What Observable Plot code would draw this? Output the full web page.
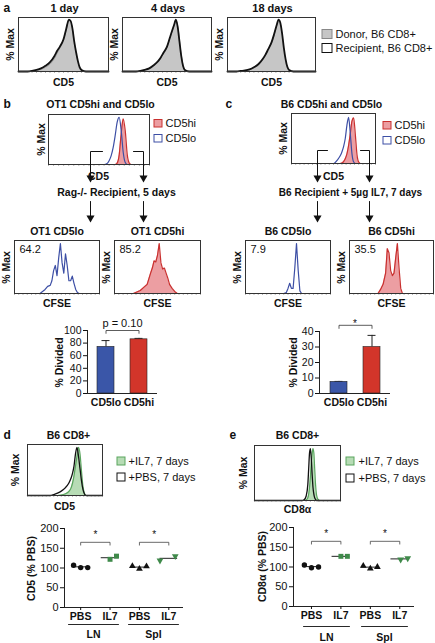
<!DOCTYPE html>
<html><head><meta charset="utf-8">
<script src="https://cdn.jsdelivr.net/npm/d3@7"></script>
<script src="https://cdn.jsdelivr.net/npm/@observablehq/plot@0.6"></script>
<style>
html,body{margin:0;padding:0;background:#fff;}
#fig{position:relative;width:435px;height:643px;overflow:hidden;background:#fff;font-family:"Liberation Sans",Arial,Helvetica,sans-serif;}
</style></head><body><div id="fig"></div>
<script>
// ---------------- DATA ----------------
// Panel a: CD5 histograms (x in % of axis, y in % Max)
const aTitles = ["1 day", "4 days", "18 days"];
const aLegend = ["Donor, B6 CD8+", "Recipient, B6 CD8+"];
const aCD5 = [0,10,15,20,25,30,35,40,43,46,50,53,56,58,60,62,64,66,68,70,75,100];
const aDonor1 = [0,0,1,2,4,8,14,25,35,45,60,80,98,96,80,55,35,18,6,2,0,0];
const aRecip1 = [0,0,1,3,6,11,18,30,40,48,62,82,100,97,82,57,37,20,8,3,0,0];
const aDonor4 = [0,0,0,1,3,6,11,19,26,34,46,62,78,88,98,88,60,32,12,4,0,0];
const aRecip4 = [0,0,0,1,3,6,12,20,27,36,48,64,80,90,100,86,58,30,11,3,0,0];
const aDonor18 = [0,0,0,1,3,7,12,22,30,40,54,70,88,98,92,70,42,20,7,2,0,0];
const aRecip18 = [0,0,1,2,4,8,14,24,32,42,56,72,90,100,94,74,46,24,9,3,0,0];

// Panels b, c: sorted CD5hi / CD5lo
const sortLegend = ["CD5hi", "CD5lo"];
const bTitle = "OT1 CD5hi and CD5lo";
const cTitle = "B6 CD5hi and CD5lo";
const bStep = "Rag-/- Recipient, 5 days";
const cStep = "B6 Recipient + 5µg IL7, 7 days";
const sortCD5 = [0,50,55,58,60,62,64,66,68,70,72,74,76,78,80,82,85,100];
const bTopLo = [0,0,0,2,8,18,35,60,88,98,70,25,4,0,0,0,0,0];
const bTopHi = [0,0,0,0,0,0,0,0,3,20,65,95,70,20,3,0,0,0];
const cTopLo = [0,0,8,16,24,35,52,80,96,62,20,3,0,0,0,0,0,0];
const cTopHi = [0,0,0,0,1,4,10,20,38,62,88,95,60,18,3,0,0,0];

// CFSE dilution histograms
const cfseTitles = ["OT1 CD5lo", "OT1 CD5hi", "B6 CD5lo", "B6 CD5hi"];
const cfseDivided = ["64.2", "85.2", "7.9", "35.5"];
const bLoCfseX = [0,30,33,36,39,42,44,46,48,50,52,54,56,58,60,62,64,66,68,70,72,74,76,100];
const bLoCfseY = [0,0,4,8,14,16,25,45,55,35,70,98,60,40,78,55,25,25,34,20,8,2,0,0];
const bHiCfseX = [0,22,26,30,34,38,42,44,46,48,50,52,54,56,58,60,62,64,67,70,73,100];
const bHiCfseY = [0,0,3,6,12,18,40,50,64,62,75,98,60,48,50,40,30,18,10,4,0,0];
const cLoCfseX = [0,45,48,50,52,54,56,58,60,62,64,66,100];
const cLoCfseY = [0,0,2,10,20,10,10,50,98,45,5,0,0];
const cHiCfseX = [0,34,37,40,43,45,47,49,51,53,55,57,59,61,63,100];
const cHiCfseY = [0,0,8,18,40,88,80,45,35,40,70,98,50,10,0,0];

// % Divided bars
const barGroups = ["CD5lo", "CD5hi"];
const bDivided = [74, 86];
const bDividedErr = [10, 1.5];
const bNote = "p = 0.10";
const cDivided = [7.5, 30];
const cDividedErr = [0.3, 7.5];
const cNote = "*";

// Panels d, e
const deTitle = "B6 CD8+";
const deLegend = ["+IL7, 7 days", "+PBS, 7 days"];
const dHistX = [0,30,35,40,45,50,55,58,60,62,64,66,68,70,72,74,76,78,100];
const dHistPbs = [0,0,2,5,9,15,25,35,45,60,85,98,80,55,30,12,3,0,0];
const dHistIl7 = [0,0,0,0,1,3,8,15,25,40,60,80,98,85,50,18,4,0,0];
const eHistX = [0,55,58,60,62,63,64,65,66,67,68,69,70,71,72,73,74,76,100];
const eHistPbs = [0,0,2,8,30,60,90,98,80,50,25,12,5,2,0,0,0,0,0];
const eHistIl7 = [0,0,0,1,5,12,25,45,70,88,98,90,60,30,12,5,2,0,0];

const dotGroups = ["PBS", "IL7", "PBS", "IL7"];
const tissues = ["LN", "Spl"];
const dLnPbs = [107, 101, 101];
const dLnIl7 = [122, 130];
const dSplPbs = [105, 98, 104];
const dSplIl7 = [119, 130];
const eLnPbs = [105, 98, 100];
const eLnIl7 = [127, 127];
const eSplPbs = [103, 96, 100];
const eSplIl7 = [119, 122];
const pbsJitter = [-0.24, 0, 0.24];
const dLnIl7Jitter = [0, 0.22];
const dSplIl7Jitter = [-0.3, 0.22];
const eLnIl7Jitter = [0, 0.22];
const eSplIl7Jitter = [0.03, 0.27];
const dYLabel = "CD5 (% PBS)";
const eYLabel = "CD8α (% PBS)";

// ---------------- STYLE / HELPERS ----------------
const FONT = '"Liberation Sans", Arial, Helvetica, sans-serif';
const INK = "#111";
const GRAYF = "#c6c6c6";
const BLUE = "#3d4fa5";
const RED = "#c9302f";
const PINK = "#ec9ea2";
const GREENF = "#b7dcb5";
const GREEN = "#5aa55e";
const DOTGREEN = "#3f8a4a";
const BARBLUE = "#3a56a8";
const BARRED = "#d2352a";
const fig = document.getElementById("fig");

function mount(svg, left, top) {
  svg.style.position = "absolute";
  svg.style.left = left + "px";
  svg.style.top = top + "px";
  svg.style.overflow = "visible";
  svg.style.maxWidth = "none";
  fig.appendChild(svg);
}
const pts = (xs, ys) => xs.map((x, i) => ({x, y: ys[i]}));

function hist(left, top, w, h, curves) {
  const m = 1, mb = 4;
  const marks = [];
  for (const c of curves) if (c.fill) marks.push(Plot.areaY(pts(c.x, c.y), {x: "x", y: "y", fill: c.fill, curve: c.curve}));
  for (const c of curves) if (c.stroke) marks.push(Plot.lineY(pts(c.x, c.y), {x: "x", y: "y", stroke: c.stroke, strokeWidth: c.sw, curve: c.curve}));
  marks.push(Plot.axisX({ticks: 30, tickSize: 2, tickFormat: () => "", stroke: "#888", strokeWidth: 0.6, label: null}));
  marks.push(Plot.frame({stroke: "#333", strokeWidth: 1}));
  const svg = Plot.plot({
    width: w + 2 * m, height: h + m + mb,
    marginLeft: m, marginRight: m, marginTop: m, marginBottom: mb,
    x: {domain: [0, 100]}, y: {domain: [0, 104], axis: null},
    style: {background: "transparent", fontFamily: FONT},
    marks
  });
  mount(svg, left - m, top - m);
}

function bars(o) {
  const ml = o.ml, mt = o.mt, mb = 18, mr = 4;
  const data = barGroups.map((g, i) => ({g, v: o.values[i], e: o.errs[i]}));
  const br = [
    {g: barGroups[0], v: o.bracket[0]}, {g: barGroups[0], v: o.bracket[1]},
    {g: barGroups[1], v: o.bracket[1]}, {g: barGroups[1], v: o.bracket[0]}
  ];
  const svg = Plot.plot({
    width: ml + o.w + mr, height: mt + o.h + mb,
    marginLeft: ml, marginRight: mr, marginTop: mt, marginBottom: mb,
    x: {type: "band", domain: barGroups, paddingInner: 0.485, paddingOuter: 0.3},
    y: {domain: [0, o.yMax]},
    color: {domain: barGroups, range: [BARBLUE, BARRED]},
    style: {background: "transparent", fontFamily: FONT, color: INK},
    marks: [
      Plot.ruleX(data, {x: "g", y1: "v", y2: d => d.v + d.e, stroke: "#222", strokeWidth: 1}),
      Plot.tickY(data, {x: "g", y: d => d.v + d.e, insetLeft: 4.5, insetRight: 4.5, stroke: "#222", strokeWidth: 1}),
      Plot.barY(data, {x: "g", y: "v", fill: "g", stroke: "#222", strokeWidth: 0.6}),
      Plot.ruleY([0], {stroke: "#222"}),
      Plot.frame({anchor: "left", stroke: "#222"}),
      Plot.axisY({ticks: o.yTicks, tickSize: 4, tickPadding: 2, fontSize: 10.5, label: null}),
      Plot.axisX({tickSize: 0, tickPadding: 5, fontSize: 10.5, fontWeight: "bold", label: null}),
      Plot.line(br, {x: "g", y: "v", stroke: "#333", strokeWidth: 0.8}),
      Plot.text([o.note], {frameAnchor: "top", dy: o.noteDy, fontSize: o.noteSize, fill: INK})
    ]
  });
  mount(svg, o.left - ml, o.top - mt);
}

function dots(o) {
  const ml = 28, mr = 4, mt = 8, mb = 18;
  const groups = [o.lnPbs, o.lnIl7, o.splPbs, o.splIl7];
  const jit = [pbsJitter, o.lnJit, pbsJitter, o.splJit];
  const syms = ["circle", "square", "triangle", "triangle"];
  const rot = [0, 0, 0, 180];
  const cols = [INK, DOTGREEN, INK, DOTGREEN];
  const rs = [2.7, 2.8, 2.5, 2.5];
  const means = groups.map((vals, g) => ({g, m: d3.mean(vals)}));
  const marks = [
    Plot.ruleY([0], {stroke: "#222"}),
    Plot.frame({anchor: "left", stroke: "#222"}),
    Plot.axisY({ticks: [0, 50, 100, 150, 200], tickSize: 4, tickPadding: 2, fontSize: 11, label: null}),
    Plot.axisX({ticks: [0, 1, 2, 3], tickFormat: i => dotGroups[i], tickSize: 3, tickPadding: 2, fontSize: 10.5, fontWeight: "bold", label: null}),
    Plot.ruleY(means, {y: "m", x1: d => d.g - 0.3, x2: d => d.g + 0.3, stroke: "#222", strokeWidth: 1})
  ];
  groups.forEach((vals, g) => {
    marks.push(Plot.dot(vals.map((v, i) => ({x: g + jit[g][i], v})), {x: "x", y: "v", symbol: syms[g], rotate: rot[g], r: rs[g], fill: cols[g], stroke: "none"}));
  });
  [[0, 1], [2, 3]].forEach(([a, b]) => {
    marks.push(Plot.line([{x: a, y: 158}, {x: a, y: 165}, {x: b, y: 165}, {x: b, y: 158}], {x: "x", y: "y", stroke: "#444", strokeWidth: 0.8}));
    marks.push(Plot.text([{x: (a + b) / 2, y: 184, t: "*"}], {x: "x", y: "y", text: "t", fontSize: 10, fill: INK}));
  });
  const svg = Plot.plot({
    width: ml + o.w + mr, height: mt + o.h + mb,
    marginLeft: ml, marginRight: mr, marginTop: mt, marginBottom: mb,
    x: {domain: o.xDomain}, y: {domain: [0, 200]},
    style: {background: "transparent", fontFamily: FONT, color: INK},
    marks
  });
  mount(svg, o.left - ml, o.top - mt);
}

// ---------------- CHARTS ----------------
const aCurves = [[aDonor1, aRecip1], [aDonor4, aRecip4], [aDonor18, aRecip18]];
const aBoxes = [[18, 90], [122, 89], [227, 88]];
aCurves.forEach(([don, rec], i) => {
  hist(aBoxes[i][0], 17, aBoxes[i][1], 54, [
    {x: aCD5, y: don, fill: GRAYF, stroke: "#999", sw: 0.8, curve: "monotone-x"},
    {x: aCD5, y: rec, stroke: INK, sw: 1.8, curve: "monotone-x"}
  ]);
});
hist(48, 114, 101, 50, [
  {x: sortCD5, y: bTopHi, fill: PINK, stroke: RED, sw: 1.2, curve: "monotone-x"},
  {x: sortCD5, y: bTopLo, stroke: BLUE, sw: 1.2, curve: "monotone-x"}
]);
hist(291, 113, 84, 50, [
  {x: sortCD5, y: cTopHi, fill: PINK, stroke: RED, sw: 1.2, curve: "monotone-x"},
  {x: sortCD5, y: cTopLo, stroke: BLUE, sw: 1.2, curve: "monotone-x"}
]);
hist(14, 240, 85, 53, [{x: bLoCfseX, y: bLoCfseY, stroke: BLUE, sw: 1.2, curve: "linear"}]);
hist(114, 240, 86, 53, [{x: bHiCfseX, y: bHiCfseY, fill: PINK, stroke: RED, sw: 1.2, curve: "linear"}]);
hist(245, 240, 85, 53, [{x: cLoCfseX, y: cLoCfseY, stroke: BLUE, sw: 1.2, curve: "linear"}]);
hist(349, 240, 84, 53, [{x: cHiCfseX, y: cHiCfseY, fill: PINK, stroke: RED, sw: 1.2, curve: "linear"}]);
hist(27, 444, 75, 51, [
  {x: dHistX, y: dHistIl7, fill: GREENF, stroke: GREEN, sw: 1.2, curve: "monotone-x"},
  {x: dHistX, y: dHistPbs, stroke: INK, sw: 1.3, curve: "monotone-x"}
]);
hist(254, 445, 86, 55, [
  {x: eHistX, y: eHistIl7, fill: GREENF, stroke: GREEN, sw: 1.2, curve: "monotone-x"},
  {x: eHistX, y: eHistPbs, stroke: INK, sw: 1.3, curve: "monotone-x"}
]);

bars({left: 87, top: 330, w: 70, h: 63, ml: 26, mt: 26, yMax: 100, yTicks: [0, 20, 40, 60, 80, 100],
  values: bDivided, errs: bDividedErr, bracket: [95.5, 100], note: bNote, noteDy: -11, noteSize: 11});
bars({left: 319, top: 331, w: 71, h: 62, ml: 24, mt: 22, yMax: 40, yTicks: [0, 10, 20, 30, 40],
  values: cDivided, errs: cDividedErr, bracket: [42, 44], note: cNote, noteDy: -12, noteSize: 10});

dots({left: 64, top: 528, w: 119, h: 79, xDomain: [-0.55, 3.5],
  lnPbs: dLnPbs, lnIl7: dLnIl7, splPbs: dSplPbs, splIl7: dSplIl7, lnJit: dLnIl7Jitter, splJit: dSplIl7Jitter});
dots({left: 293, top: 527, w: 121, h: 79, xDomain: [-0.61, 3.5],
  lnPbs: eLnPbs, lnIl7: eLnIl7, splPbs: eSplPbs, splIl7: eSplIl7, lnJit: eLnIl7Jitter, splJit: eSplIl7Jitter});

// ---------------- ANNOTATION LAYER ----------------
const ov = [];
function T(text, x, y, o = {}) {
  ov.push(Plot.text([{x, y, text}], {x: "x", y: "y", text: "text", fontSize: 10.5, fill: INK, ...o}));
}
const B = {fontWeight: "bold"};
const R90 = {fontWeight: "bold", rotate: -90};
function sw(x, y, w, h, fill, stroke) {
  ov.push(Plot.rect([{x1: x, x2: x + w, y1: y, y2: y + h}], {x1: "x1", x2: "x2", y1: "y1", y2: "y2", fill, stroke, strokeWidth: 1}));
}
function head(x, yTip) {
  ov.push(Plot.dot([{x, y: yTip - 4.7}], {x: "x", y: "y", symbol: "triangle", rotate: 180, r: 3, fill: INK, stroke: "none"}));
}
function gate(xv, xh, yh, yTip) {
  ov.push(Plot.line([{x: xh, y: yh}, {x: xv, y: yh}, {x: xv, y: yTip - 5}], {x: "x", y: "y", stroke: INK, strokeWidth: 1}));
  head(xv, yTip);
}
function arrow(x, y0, yTip) {
  ov.push(Plot.line([{x, y: y0}, {x, y: yTip - 5}], {x: "x", y: "y", stroke: INK, strokeWidth: 1}));
  head(x, yTip);
}

// panel a
T("a", 3, 8, {fontWeight: "bold", fontSize: 12, textAnchor: "start"});
aBoxes.forEach(([x, w], i) => {
  T(aTitles[i], x + w / 2 + 1, 8, {fontWeight: "bold", fontSize: 11});
  T("% Max", x - 8, 44, R90);
  T("CD5", x + w / 2, 82, B);
});
sw(322, 29.5, 10, 9, GRAYF, "#888");
sw(322, 43.5, 10, 9, "white", INK);
T(aLegend[0], 335, 34, {fontSize: 11, textAnchor: "start"});
T(aLegend[1], 335, 48, {fontSize: 11, textAnchor: "start"});

// panels b, c
T("b", 3, 104, {fontWeight: "bold", fontSize: 12, textAnchor: "start"});
T(bTitle, 100, 104, B);
T("c", 225, 104, {fontWeight: "bold", fontSize: 12, textAnchor: "start"});
T(cTitle, 331, 104, B);
T("% Max", 41, 139, R90);
T("% Max", 283, 138, R90);
sw(154, 119.5, 8, 7.5, PINK, RED);
sw(154, 134.5, 8, 7.5, "white", BLUE);
T(sortLegend[0], 165, 123, {fontSize: 11, textAnchor: "start"});
T(sortLegend[1], 165, 138, {fontSize: 11, textAnchor: "start"});
sw(383, 121.5, 8, 7.5, PINK, RED);
sw(383, 136.5, 8, 7.5, "white", BLUE);
T(sortLegend[0], 394, 125, {fontSize: 11, textAnchor: "start"});
T(sortLegend[1], 394, 140, {fontSize: 11, textAnchor: "start"});
T("CD5", 98, 176, B);
T("CD5", 333, 176, B);
gate(90, 102, 151, 182);
gate(143, 133, 151, 182);
gate(317, 327, 150, 182);
gate(369, 360, 150, 182);
T(bStep, 116, 192, B);
T(cStep, 350, 192, {fontWeight: "bold", fontSize: 10});
arrow(90, 201, 222);
arrow(143, 201, 222);
arrow(317, 201, 222);
arrow(369, 201, 222);

const cfseBoxes = [[14, 85], [114, 86], [245, 85], [349, 84]];
cfseBoxes.forEach(([x, w], i) => {
  T(cfseTitles[i], x + w / 2, 231, B);
  T("% Max", x - 8, 267, R90);
  T("CFSE", x + w / 2, 303, B);
  T(cfseDivided[i], x + 5, 249, {fontSize: 11, textAnchor: "start"});
});
T("% Divided", 59, 362, R90);
T("% Divided", 293, 362, R90);

// panels d, e
T("d", 3, 435, {fontWeight: "bold", fontSize: 12, textAnchor: "start"});
T(deTitle, 68, 435, B);
T("e", 229, 435, {fontWeight: "bold", fontSize: 12, textAnchor: "start"});
T(deTitle, 297, 435, B);
T("% Max", 15, 469.5, R90);
T("% Max", 243, 472.5, R90);
T("CD5", 64, 506, B);
T("CD8α", 297, 509, B);
sw(117, 457, 8, 8, GREENF, GREEN);
sw(117, 473, 8, 8, "white", INK);
T(deLegend[0], 128, 461, {fontSize: 11, textAnchor: "start"});
T(deLegend[1], 128, 477, {fontSize: 11, textAnchor: "start"});
sw(346, 457, 8, 8, GREENF, GREEN);
sw(346, 474, 8, 8, "white", INK);
T(deLegend[0], 358, 461, {fontSize: 11, textAnchor: "start"});
T(deLegend[1], 358, 478, {fontSize: 11, textAnchor: "start"});
T(dYLabel, 31, 568, R90);
T(eYLabel, 262, 566, R90);
// group underlines
[[68, 118, 624], [128, 178, 624], [303, 349, 626], [361, 407, 626]].forEach(([x1, x2, y]) => {
  ov.push(Plot.line([{x: x1, y}, {x: x2, y}], {x: "x", y: "y", stroke: INK, strokeWidth: 0.9}));
});
T(tissues[0], 93, 634, B);
T(tissues[1], 153, 634, B);
T(tissues[0], 326, 637, B);
T(tissues[1], 384, 637, B);

const overlay = Plot.plot({
  width: 435, height: 643, margin: 0,
  x: {type: "identity", axis: null}, y: {type: "identity", axis: null},
  style: {background: "transparent", fontFamily: FONT},
  marks: ov
});
mount(overlay, 0, 0);
</script></body></html>
